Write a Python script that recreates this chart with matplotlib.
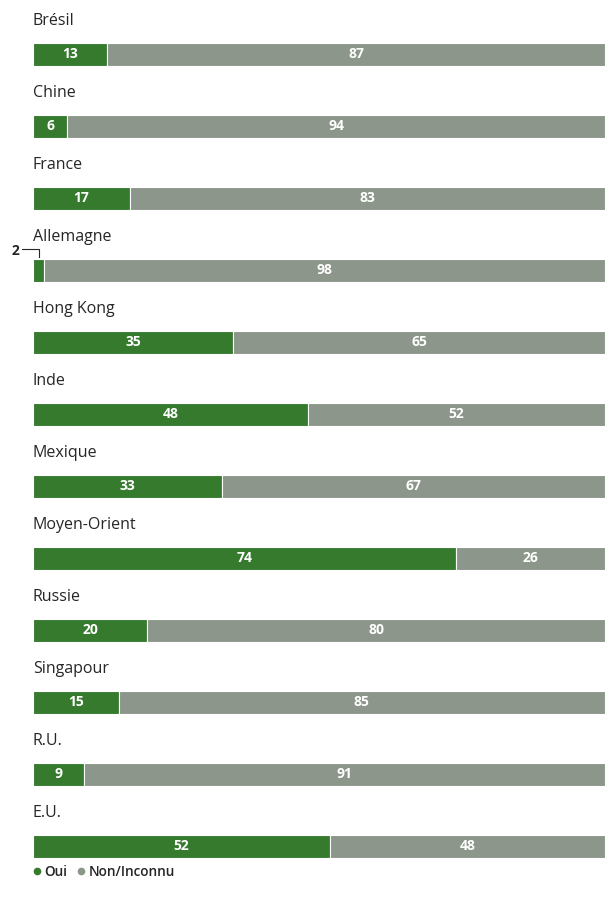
import matplotlib.pyplot as plt
from matplotlib.lines import Line2D

# Survey shares by market (percent)
countries = ['Brésil', 'Chine', 'France', 'Allemagne', 'Hong Kong', 'Inde',
             'Mexique', 'Moyen-Orient', 'Russie', 'Singapour', 'R.U.', 'E.U.']
oui = [13, 6, 17, 2, 35, 48, 33, 74, 20, 15, 9, 52]
non = [87, 94, 83, 98, 65, 52, 67, 26, 80, 85, 91, 48]
legend_labels = ['Oui', 'Non/Inconnu']

GREEN = '#367a2e'
GREY = '#8c968a'
TEXT = '#262626'

plt.rcParams['font.family'] = ['Open Sans', 'DejaVu Sans']

fig = plt.figure(figsize=(6.10, 9.01), dpi=100)
# rows are 72 px apart, first bar centred 54 px from the top
ax = fig.add_axes([33 / 610, 0, 572 / 610, 1])
ax.set_xlim(0, 100)
ax.set_ylim((901 - 54) / 72, -54 / 72)
ax.axis('off')

rows = list(range(len(countries)))
bar_h = 23 / 72
ax.barh(rows, oui, height=bar_h, color=GREEN, edgecolor='white', linewidth=0.8)
ax.barh(rows, non, left=oui, height=bar_h, color=GREY, edgecolor='white', linewidth=0.8)

for i, (c, a, b) in enumerate(zip(countries, oui, non)):
    ax.text(0, i - 0.46, c, ha='left', va='center', fontsize=11.5,
            color=TEXT, clip_on=False)
    if a >= 5:
        ax.text(a / 2, i, str(a), ha='center', va='center', fontsize=10,
                fontweight='bold', color='white')
    ax.text(a + b / 2, i, str(b), ha='center', va='center', fontsize=10,
            fontweight='bold', color='white')

# small value gets a leader line instead of an inside label
idx = oui.index(2)
x_mid = oui[idx] / 2
ax.plot([-1.9, x_mid, x_mid], [idx - 0.29, idx - 0.29, idx - 0.18],
        color=TEXT, linewidth=0.8, clip_on=False)
ax.text(-2.3, idx - 0.27, str(oui[idx]), ha='right', va='center', fontsize=10,
        fontweight='bold', color=TEXT, clip_on=False)

handles = [Line2D([], [], marker='o', linestyle='', markersize=4.5, color=GREEN),
           Line2D([], [], marker='o', linestyle='', markersize=4.5, color=GREY)]
leg = fig.legend(handles, legend_labels, loc='center left',
                 bbox_to_anchor=(21 / 610, 1 - 872 / 901), ncol=2, frameon=False,
                 handlelength=0.5, handletextpad=0.3, columnspacing=0.8,
                 prop={'size': 9.8, 'weight': 'semibold'})
for t in leg.get_texts():
    t.set_color(TEXT)

fig.savefig('out.png', dpi=100)
